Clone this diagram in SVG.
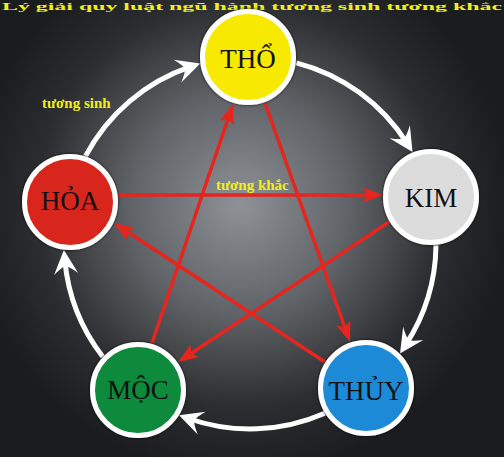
<svg xmlns="http://www.w3.org/2000/svg" width="504" height="457" viewBox="0 0 504 457">
<defs>
<radialGradient id="bg" cx="240" cy="205" r="270" gradientUnits="userSpaceOnUse">
<stop offset="0" stop-color="#8e9196"/>
<stop offset="0.4" stop-color="#606367"/>
<stop offset="0.75" stop-color="#2c2d30"/>
<stop offset="1" stop-color="#1b1c1e"/>
</radialGradient>
<marker id="wa" markerUnits="userSpaceOnUse" markerWidth="40" markerHeight="40" viewBox="-20 -20 40 40" refX="0" refY="0" orient="auto">
<path d="M10,0 L-14,-12 Q-7,-4 -6,0 Q-7,4 -14,12 Z" fill="#ffffff"/>
</marker>
<marker id="ra" markerUnits="userSpaceOnUse" markerWidth="30" markerHeight="30" viewBox="-15 -15 30 30" refX="0" refY="0" orient="auto">
<path d="M6,0 L-14,-7.5 L-10,0 L-14,7.5 Z" fill="#e5251e"/>
</marker>
<filter id="sh" x="-20%" y="-20%" width="140%" height="140%">
<feDropShadow dx="0" dy="0" stdDeviation="1.5" flood-color="#000" flood-opacity="0.8"/>
</filter>
</defs>
<style>
.node circle{stroke:#ffffff;stroke-width:5;filter:url(#sh)}
.node text{font-family:"Liberation Serif","Times New Roman",serif;font-size:27px;fill:#111;text-anchor:middle}
.sinh{fill:none;stroke:#ffffff;stroke-width:5;marker-end:url(#wa)}
.khac{fill:none;stroke:#e5251e;stroke-width:3.5;marker-end:url(#ra)}
.lbl{font-family:"Liberation Serif","Times New Roman",serif;font-weight:bold;font-size:15px;fill:#f2ee1a}
</style>
<rect width="504" height="457" fill="url(#bg)"/>
<text x="2" y="10" class="lbl" style="font-size:11px" textLength="500" lengthAdjust="spacingAndGlyphs">Lý giải quy luật ngũ hành tương sinh tương khắc</text>
<g id="connectors">
<path class="sinh" d="M85.5,156.2 A186,186 0 0 1 190.7,66.7"/>
<path class="sinh" d="M296.3,62.8 A186,186 0 0 1 407.2,143.6"/>
<path class="sinh" d="M436,245.3 A186,186 0 0 1 405.5,345.1"/>
<path class="sinh" d="M324.8,413.3 A186,186 0 0 1 188.5,418.5"/>
<path class="sinh" d="M102.8,356.7 A186,186 0 0 1 64.8,259.9"/>
<line class="khac" x1="118" y1="195" x2="377" y2="195"/>
<line class="khac" x1="389" y1="222" x2="183" y2="358.7"/>
<line class="khac" x1="152" y1="343" x2="231.1" y2="109.7"/>
<line class="khac" x1="265" y1="103" x2="348" y2="336.3"/>
<line class="khac" x1="325" y1="362" x2="119" y2="226.3"/>
</g>
<text class="lbl" x="42" y="108">tương sinh</text>
<text class="lbl" x="216" y="190">tương khắc</text>
<g id="tho" class="node"><circle cx="248" cy="57" r="45.5" fill="#f7ea00"/><text x="248" y="68">THỔ</text></g>
<g id="kim" class="node"><circle cx="431" cy="197" r="45.5" fill="#dcdcdc"/><text x="431" y="207">KIM</text></g>
<g id="thuy" class="node"><circle cx="366" cy="388" r="45.5" fill="#1b8ad6"/><text x="366" y="400">THỦY</text></g>
<g id="moc" class="node"><circle cx="138" cy="390" r="45.5" fill="#0b8a3b"/><text x="138" y="399">MỘC</text></g>
<g id="hoa" class="node"><circle cx="70" cy="202" r="45.5" fill="#d9261c"/><text x="70" y="210">HỎA</text></g>
</svg>
